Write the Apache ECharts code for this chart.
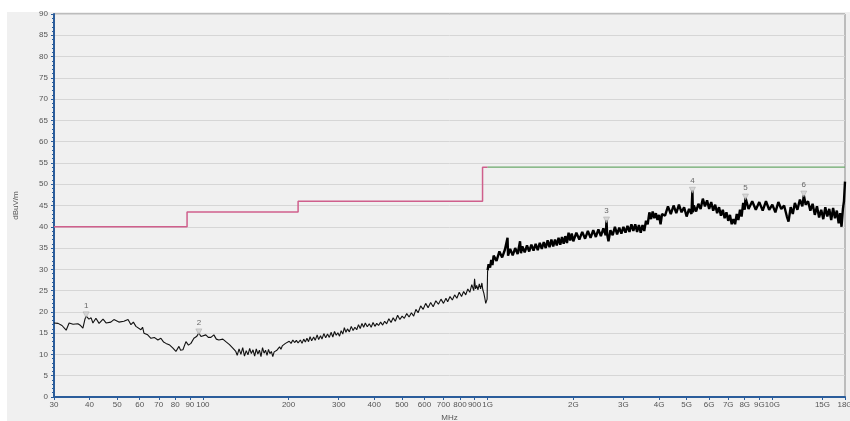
<!DOCTYPE html>
<html>
<head>
<meta charset="utf-8">
<script src="https://cdn.jsdelivr.net/npm/echarts@6/dist/echarts.min.js"></script>
<style>
  html, body { margin: 0; padding: 0; background: #ffffff; }
  #chart { width: 850px; height: 421px; }
</style>
</head>
<body>
<div id="chart"></div>
<script>
// measured trace below 1 GHz, [MHz, dBuV/m]
var traceLow = [
  [30, 17.4], [31, 17.3], [32, 16.8], [33.1, 15.7], [33.9, 17.4], [35, 17.1], [36.4, 17.2], [37.2, 16.8],
  [37.9, 16.2], [38.5, 18.2], [38.9, 19.0], [39.8, 18.3], [40.5, 18.6], [41.1, 17.4], [42.1, 18.5],
  [43.2, 17.3], [44.6, 18.3], [45.7, 17.4], [47.5, 17.6], [48.7, 18.2], [50.7, 17.6], [52.8, 17.8],
  [54.6, 18.2], [55.9, 17.0], [57, 17.6], [58.2, 16.6], [60.6, 15.8], [61.4, 16.4], [62.1, 15.0],
  [64, 14.6], [65.7, 13.8], [67.5, 14.0], [69.5, 13.4], [71.2, 13.8], [72.8, 12.9], [74.2, 12.6],
  [76.5, 12.2], [78.5, 11.5], [80.4, 10.7], [82.4, 11.9], [83.5, 11.0], [85.1, 11.1], [87.2, 13.0],
  [89, 12.2], [90.8, 12.6], [93, 13.8], [95, 14.2], [96.8, 15.0], [98.5, 14.2], [100, 13.8],
  [102.4, 14.6], [104.5, 14.0], [106.7, 14.0], [109.3, 14.6], [111.5, 13.6], [113.8, 13.4],
  [117.5, 13.6], [120.4, 13.0], [124, 12.3], [127.4, 11.5], [130.5, 10.7],
  [132, 9.8], [134, 11.3], [136, 10.0], [138, 11.6], [140, 9.6], [142, 10.9], [144, 9.9], [146, 11.4],
  [148, 10.2], [150, 11.1], [152, 9.6], [154, 11.3], [156, 10.1], [158, 11.0], [160, 9.5], [162, 11.6],
  [164, 10.3], [166, 11.0], [168, 9.8], [170, 11.2], [172, 10.2], [174, 10.7], [176, 9.5], [178, 10.6],
  [180, 10.2], [182, 11.0], [184, 10.6], [186, 11.8], [188, 11.2], [190, 12.0], [192, 11.6],
  [195, 12.6], [198, 12.2], [201, 13.1], [204, 12.6], [207, 13.4], [210, 12.8], [213, 13.3],
  [216, 12.7], [220, 13.4], [223, 12.6], [226, 13.6], [229, 12.9], [232, 13.8], [235, 13.0],
  [238, 14.2], [241, 13.2], [245, 14.1], [248, 13.3], [252, 14.6], [255, 13.5], [259, 14.4],
  [262, 13.6], [266, 14.9], [270, 13.9], [274, 14.8], [278, 14.0], [282, 15.2], [286, 14.1],
  [290, 15.4], [294, 14.5], [298, 15.1], [302, 14.3], [306, 15.6], [310, 14.8], [314, 16.3],
  [318, 15.2], [322, 16.0], [327, 15.3], [332, 16.6], [337, 15.6], [342, 16.4], [347, 15.8],
  [352, 17.0], [357, 16.1], [362, 17.3], [367, 16.4], [372, 17.4], [378, 16.5], [384, 17.2],
  [390, 16.4], [396, 17.5], [402, 16.6], [408, 17.3], [414, 16.8], [421, 17.6], [428, 16.9],
  [435, 17.8], [442, 17.2], [450, 18.4], [458, 17.5], [466, 18.6], [474, 17.8], [483, 19.2],
  [492, 18.2], [501, 19.0], [510, 18.5], [520, 19.6], [530, 18.8], [540, 19.8], [550, 19.0],
  [560, 20.6], [570, 19.8], [582, 21.4], [594, 20.6], [606, 22.0], [618, 21.0], [631, 22.2],
  [644, 21.2], [658, 22.6], [672, 21.8], [686, 23.0], [700, 22.0], [714, 23.2], [724, 22.4],
  [738, 23.6], [752, 22.8], [766, 24.0], [780, 23.2], [795, 24.6], [810, 23.6], [824, 24.8],
  [838, 24.0], [852, 25.4], [866, 24.6], [880, 26.4], [894, 25.0], [900, 27.8], [907, 25.4],
  [915, 26.2], [925, 25.2], [935, 26.6], [945, 25.4], [955, 26.8], [962, 25.2], [970, 24.4],
  [978, 23.2], [985, 22.0], [992, 21.6], [996, 23.0], [1000, 29.8]
];

// measured trace above 1 GHz, [MHz, dBuV/m]
var traceHigh = [
  [1000, 29.8], [1008, 31.2],
  [1020, 30.4], [1030, 32.2], [1040, 31.0], [1050, 33.2], [1075, 32.0], [1100, 34.2], [1125, 32.8],
  [1150, 34.6], [1175, 37.4], [1180, 33.2], [1200, 34.8], [1225, 33.3], [1250, 35.0], [1275, 33.6],
  [1300, 36.6], [1310, 33.8], [1325, 35.4], [1350, 34.0], [1375, 35.6], [1400, 34.2], [1425, 35.8],
  [1450, 34.4], [1475, 36.0], [1500, 34.5], [1525, 36.2], [1550, 34.8], [1575, 36.4], [1600, 35.0],
  [1625, 36.8], [1650, 35.2], [1675, 37.0], [1700, 35.4], [1725, 37.0], [1750, 35.6], [1775, 37.4],
  [1800, 35.8], [1825, 37.6], [1850, 36.0], [1875, 37.8], [1900, 36.2], [1925, 38.6], [1950, 36.8],
  [1975, 38.4], [2000, 36.6],
  [2050, 38.6], [2100, 37.0], [2150, 38.8], [2200, 37.2], [2250, 39.0], [2300, 37.4], [2350, 39.2],
  [2400, 37.6], [2450, 39.4], [2500, 37.8], [2550, 39.6], [2600, 38.0], [2616, 41.6], [2630, 38.2],
  [2658, 36.6], [2700, 39.2], [2750, 38.0], [2800, 40.0], [2850, 38.2], [2900, 39.8], [2950, 38.4],
  [3000, 40.0], [3050, 38.6], [3100, 40.2], [3150, 38.8], [3200, 40.6], [3250, 39.0], [3300, 40.6],
  [3350, 38.8], [3400, 40.4], [3450, 38.6], [3500, 40.4], [3550, 39.0], [3600, 41.4], [3650, 40.6],
  [3700, 43.4], [3750, 41.8], [3800, 43.6], [3850, 42.0], [3900, 43.2], [3950, 41.6], [4000, 42.8],
  [4050, 40.6],
  [4100, 43.0], [4200, 42.6], [4300, 44.8], [4400, 43.0], [4500, 45.0], [4600, 43.2], [4700, 45.2],
  [4800, 43.4], [4900, 44.6], [5000, 42.4], [5100, 44.2], [5200, 43.0], [5240, 48.6], [5260, 43.4],
  [5300, 45.0], [5400, 43.6], [5500, 45.4], [5600, 44.2], [5700, 46.6], [5800, 44.8], [5900, 46.2],
  [6000, 44.2], [6100, 45.8], [6200, 43.8], [6300, 45.2], [6400, 43.2], [6500, 44.6], [6600, 42.6],
  [6700, 44.0], [6800, 42.0], [6900, 43.4], [7000, 41.4], [7100, 42.8], [7200, 40.6], [7300, 41.8],
  [7400, 40.6], [7500, 43.0], [7600, 41.6], [7700, 44.0], [7800, 42.4], [7900, 45.6], [8000, 44.0],
  [8050, 46.8],
  [8250, 44.2], [8500, 46.0], [8750, 44.0], [9000, 45.8], [9250, 43.8], [9500, 46.0], [9750, 44.0],
  [10000, 45.2], [10250, 43.4], [10500, 45.8], [10750, 44.2], [11000, 45.0], [11250, 42.4],
  [11400, 41.2], [11600, 44.6], [11800, 43.0], [12000, 45.6], [12250, 44.0], [12500, 46.4],
  [12750, 44.8], [12900, 47.4], [13100, 45.2], [13350, 46.0], [13600, 43.8], [13850, 45.4],
  [14100, 42.8], [14350, 44.8], [14600, 42.2], [14850, 44.0], [15100, 41.8], [15350, 44.6],
  [15600, 42.4], [15850, 44.2], [16100, 41.6], [16350, 44.4], [16600, 42.0], [16850, 43.8],
  [17100, 40.8], [17300, 43.2], [17500, 40.0], [17700, 44.2], [17850, 46.0], [18000, 50.6]
];

// limit lines
var limitLow = [[30, 40], [88, 40], [88, 43.5], [216, 43.5], [216, 46], [960, 46], [960, 54], [1000, 54]];
var limitHigh = [[1000, 54], [18000, 54]];

// peak markers
var markerFreq = [38.9, 96.8, 2616, 5240, 8050, 12900];
var markerLevel = [19.3, 15.3, 41.6, 48.6, 47.0, 47.7];
var markerName = ['1', '2', '3', '4', '5', '6'];

// x ticks
var xTickFreq = [30, 40, 50, 60, 70, 80, 90, 100, 200, 300, 400, 500, 600, 700, 800, 900, 1000,
  2000, 3000, 4000, 5000, 6000, 7000, 8000, 9000, 10000, 15000, 18000];
var xTickLabel = ['30', '40', '50', '60', '70', '80', '90', '100', '200', '300', '400', '500', '600',
  '700', '800', '900', '1G', '2G', '3G', '4G', '5G', '6G', '7G', '8G', '9G', '10G', '15G', '18G'];

function lg(f) { return Math.log10(f); }
function toXY(p) { return [lg(p[0]), p[1]]; }

var xTickVals = xTickFreq.map(lg);

var chart = echarts.init(document.getElementById('chart'));

var option = {
  backgroundColor: '#ffffff',
  animation: false,
  textStyle: { fontFamily: 'Liberation Sans' },
  graphic: [{
    type: 'rect',
    z: -10,
    shape: { x: 7, y: 12, width: 843, height: 409 },
    style: { fill: '#f0f0f0' }
  }],
  grid: {
    left: 54, right: 5, top: 14, bottom: 24,
    outerBoundsMode: 'none',
    containLabel: false,
    show: true,
    backgroundColor: 'transparent',
    borderColor: '#888',
    borderWidth: 1
  },
  xAxis: {
    type: 'value',
    min: lg(30),
    max: lg(18000),
    name: 'MHz',
    nameLocation: 'middle',
    nameGap: 16,
    nameTextStyle: { fontSize: 8, color: '#555' },
    axisLine: { show: true, lineStyle: { color: '#2b5d9b', width: 2 } },
    axisTick: { show: true, length: 3, customValues: xTickVals, lineStyle: { color: '#2b5d9b' } },
    axisLabel: {
      customValues: xTickVals,
      fontSize: 8,
      color: '#555',
      margin: 4,
      formatter: function (v) {
        var best = 0;
        for (var i = 0; i < xTickVals.length; i++) {
          if (Math.abs(xTickVals[i] - v) < Math.abs(xTickVals[best] - v)) best = i;
        }
        return xTickLabel[best];
      }
    },
    splitLine: { show: false }
  },
  yAxis: {
    type: 'value',
    min: 0,
    max: 90,
    interval: 5,
    name: 'dBuV/m',
    nameLocation: 'middle',
    nameGap: 34,
    nameTextStyle: { fontSize: 8, color: '#555' },
    axisLine: { show: true, lineStyle: { color: '#2b5d9b', width: 2 } },
    axisTick: { show: true, length: 3, lineStyle: { color: '#2b5d9b' } },
    minorTick: { show: true, splitNumber: 5, length: 2, lineStyle: { color: '#2b5d9b' } },
    axisLabel: { fontSize: 8, color: '#555', margin: 6 },
    splitLine: { show: true, lineStyle: { color: '#d6d6d6', width: 1 } }
  },
  series: [
    {
      type: 'line',
      data: limitLow.map(toXY),
      showSymbol: false,
      lineStyle: { color: '#cf5f8c', width: 1.5 },
      z: 3
    },
    {
      type: 'line',
      data: limitHigh.map(toXY),
      showSymbol: false,
      lineStyle: { color: '#6aa86a', width: 1.2 },
      z: 3
    },
    {
      type: 'line',
      data: traceLow.map(toXY),
      showSymbol: false,
      lineStyle: { color: '#111', width: 1.1 },
      z: 4
    },
    {
      type: 'line',
      data: traceHigh.map(toXY),
      showSymbol: false,
      lineStyle: { color: '#000', width: 2.4 },
      z: 4
    },
    {
      type: 'scatter',
      data: markerFreq.map(function (f, i) {
        return { value: [lg(f), markerLevel[i]], name: markerName[i] };
      }),
      symbol: 'triangle',
      symbolRotate: 180,
      symbolSize: 6,
      itemStyle: { color: '#d0d0d0', borderColor: '#999', borderWidth: 0.5 },
      label: {
        show: true,
        position: 'top',
        distance: 2,
        fontSize: 8,
        color: '#444',
        formatter: '{b}'
      },
      z: 5
    }
  ]
};

chart.setOption(option);
</script>
</body>
</html>
